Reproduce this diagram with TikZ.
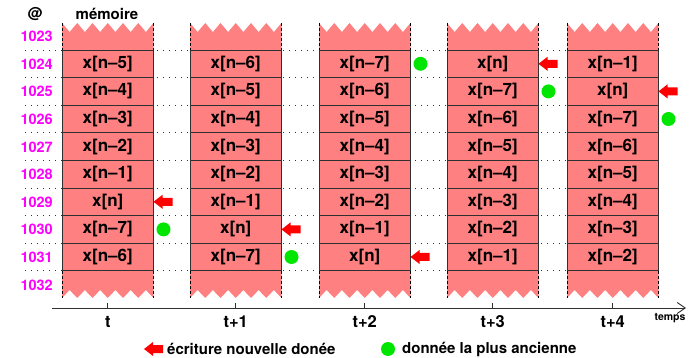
\documentclass[tikz,border=0pt]{standalone}
\usepackage{fontspec}
\setmainfont{TeX Gyre Heros}
\usetikzlibrary{arrows.meta}
\definecolor{cellred}{HTML}{FF8080}
\definecolor{addrmag}{HTML}{FF00FF}
\definecolor{dotgreen}{HTML}{00E600}
\definecolor{linegray}{HTML}{303030}
\tikzset{
  cell/.style={draw=linegray, line width=0.8pt, fill=cellred, minimum width=91.5pt, minimum height=27.6pt, inner sep=0pt, outer sep=0pt, font=\fontsize{17}{17}\selectfont\bfseries},
  addr/.style={anchor=east, text=addrmag, inner sep=0pt, font=\fontsize{14.5}{14.5}\selectfont\bfseries},
  oldest/.style={circle, fill=dotgreen, minimum size=14pt, inner sep=0pt},
  rowdots/.style={linegray, line width=0.9pt, dash pattern=on 1pt off 5pt},
  sidedash/.style={black, line width=0.9pt, dash pattern=on 3pt off 2pt},
  lbl/.style={inner sep=0pt, font=\fontsize{15}{15}\selectfont\bfseries},
  tlbl/.style={inner sep=0pt, font=\fontsize{16.5}{16.5}\selectfont\bfseries},
  newarrow/.pic={\fill[red] (0,0) -- (9,-7) -- (9,-4) -- (19,-4) -- (19,4) -- (9,4) -- (9,7) -- cycle;}
}
\begin{document}
\begin{tikzpicture}[x=1pt,y=-1pt]
\useasboundingbox (0,0) rectangle (691,358);
% dotted row lines
\foreach \k in {0,...,8} {
  \draw[rowdots] (25,{50+27.6*\k}) -- (658,{50+27.6*\k});
}
% header
\node[lbl] (at) at (35,14) {@};
\node[lbl] (mem) at (107,14) {mémoire};
% addresses
\foreach \a [count=\k from 0] in {1023,1024,1025,1026,1027,1028,1029,1030,1031,1032} {
  \node[addr] (a\a) at (53,{36.5+27.6*\k}) {\a};
}
% columns
\def\p{15.25}
\foreach \c/\xl in {1/62,2/190,3/319,4/447,5/567} {
  \fill[cellred] (\xl,23)
    \foreach \i in {0,...,5} { -- ({\xl+(\i+0.5)*\p},32) -- ({\xl+(\i+1)*\p},23) }
    -- ({\xl+91.5},50) -- (\xl,50) -- cycle;
  \fill[cellred] (\xl,298)
    \foreach \i in {0,...,5} { -- ({\xl+(\i+0.5)*\p},290) -- ({\xl+(\i+1)*\p},298) }
    -- ({\xl+91.5},271) -- (\xl,271) -- cycle;
  \draw[sidedash] (\xl,23) -- (\xl,50) (\xl,271) -- (\xl,298);
  \draw[sidedash] ({\xl+91.5},23) -- ({\xl+91.5},50) ({\xl+91.5},271) -- ({\xl+91.5},298);
}
% column contents
\foreach \c/\xl/\vals in {
  1/62/{x[n–5],x[n–4],x[n–3],x[n–2],x[n–1],x[n],x[n–7],x[n–6]},
  2/190/{x[n–6],x[n–5],x[n–4],x[n–3],x[n–2],x[n–1],x[n],x[n–7]},
  3/319/{x[n–7],x[n–6],x[n–5],x[n–4],x[n–3],x[n–2],x[n–1],x[n]},
  4/447/{x[n],x[n–7],x[n–6],x[n–5],x[n–4],x[n–3],x[n–2],x[n–1]},
  5/567/{x[n–1],x[n],x[n–7],x[n–6],x[n–5],x[n–4],x[n–3],x[n–2]}} {
  \foreach \v [count=\r] in \vals {
    \node[cell] (c\c r\r) at ({\xl+45.75},{50+27.6*(\r-0.5)}) {\v};
  }
}
% new-write arrows and oldest data
\foreach \c/\ar/\gr in {1/6/7,2/7/8,3/8/1,4/1/2,5/2/3} {
  \pic at (c\c r\ar.east) {newarrow};
  \node[oldest] (g\c) at ([xshift=10pt]c\c r\gr.east) {};
}
% time axis
\coordinate (axL) at (52,308);
\coordinate (axR) at (686,308);
\draw[linegray, line width=0.9pt, -{Straight Barb[length=8pt,width=11pt,line width=0.9pt]}] (axL) -- (axR);
\foreach \c/\t in {1/t,2/t+1,3/t+2,4/t+3,5/t+4} {
  \coordinate (tk\c) at (c\c r8.south |- axL);
  \draw[linegray, line width=0.9pt] (tk\c) -- ++(0,-5);
  \node[tlbl] (tl\c) at ([yshift=-14pt]tk\c) {\t};
}
\node[inner sep=0pt, font=\fontsize{10.5}{10.5}\selectfont\bfseries] (temps) at (670,318) {temps};
% legend
\pic at (144,349) {newarrow};
\node[lbl, anchor=west] (leg1) at (167,349) {écriture nouvelle donée};
\node[oldest] (leg2dot) at (388,349) {};
\node[lbl, anchor=west] (leg2) at (402,349) {donnée la plus ancienne};
\end{tikzpicture}
\end{document}
